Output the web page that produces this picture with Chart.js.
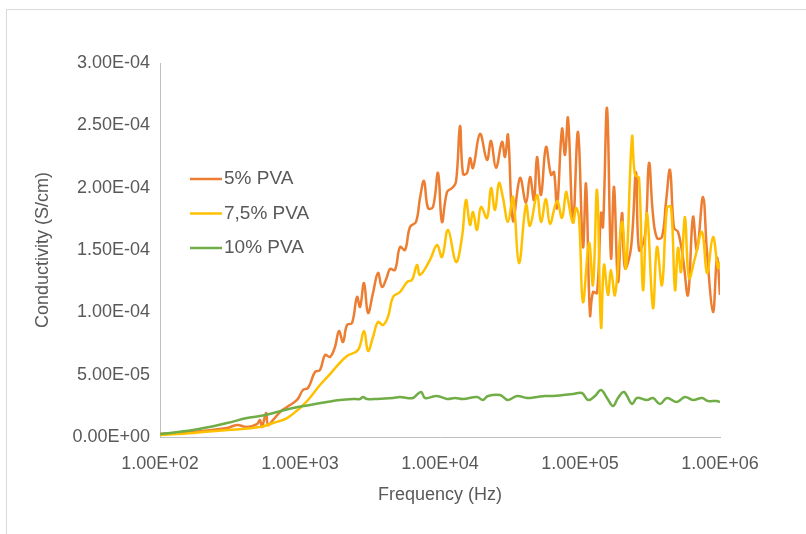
<!DOCTYPE html>
<html>
<head>
<meta charset="utf-8">
<script src="https://cdn.jsdelivr.net/npm/chart.js@4.4.1/dist/chart.umd.min.js"></script>
<style>
  html, body { margin: 0; padding: 0; background: #fff; }
  #frame { position: absolute; left: 6px; top: 9px; width: 800px; height: 525px;
           border-top: 1px solid #d9d9d9; border-left: 1px solid #d9d9d9; }
  #wrap { position: absolute; left: 0; top: 0; width: 806px; height: 534px; }
</style>
</head>
<body>
<div id="frame"></div>
<div id="wrap"><canvas id="chart"></canvas></div>
<script>
// Eixos
const xTicks = [1e2, 1e3, 1e4, 1e5, 1e6];
const xTickLabels = ['1.00E+02', '1.00E+03', '1.00E+04', '1.00E+05', '1.00E+06'];
const yTicks = [0, 5e-5, 1e-4, 1.5e-4, 2e-4, 2.5e-4, 3e-4];
const yTickLabels = ['0.00E+00', '5.00E-05', '1.00E-04', '1.50E-04', '2.00E-04', '2.50E-04', '3.00E-04'];

const seriesNames = ['5% PVA', '7,5% PVA', '10% PVA'];

// 5% PVA
const freq5 = [
  100,172,301,355,418,493,518,535,572,591,
  641,720,808,952,1050,1141,1280,1389,1509,1638,
  1778,1899,2028,2166,2352,2554,2683,2866,3060,3322,
  3607,3852,4180,4394,4771,5179,5623,6105,6740,7197,
  7686,8208,8913,9676,10330,11220,12180,13010,13890,14600,
  15590,16380,17210,19310,21660,23140,25120,27730,29130,30600,
  33220,37280,41150,43940,46930,49300,52660,57170,62070,65220,
  68500,74370,78140,82080,89130,96760,105000,110400,117900,123800,
  132300,141300,146000,155900,166500,175000,186800,199500,209600,231400,
  251200,263900,291300,311100,332200,354800,385200,411500,439400,469300,
  501200,544100,590700,641300,685000,756100,807500,891300,952000,1000000
];
const cond5 = [
  2.4e-6,4.0e-6,7.2e-6,9.6e-6,8.0e-6,1.04e-5,1.36e-5,8.0e-6,1.93e-5,9.6e-6,
  1.36e-5,2.0e-5,2.41e-5,2.97e-5,3.77e-5,3.93e-5,5.21e-5,5.37e-5,6.58e-5,6.42e-5,
  7.22e-5,8.50e-5,7.62e-5,8.98e-5,9.14e-5,1.123e-4,1.043e-4,1.235e-4,9.95e-5,1.155e-4,
  1.316e-4,1.203e-4,1.284e-4,1.348e-4,1.340e-4,1.524e-4,1.500e-4,1.685e-4,1.725e-4,1.917e-4,
  2.054e-4,1.837e-4,1.845e-4,2.118e-4,1.725e-4,1.965e-4,1.997e-4,2.046e-4,2.495e-4,2.110e-4,
  2.118e-4,2.238e-4,2.158e-4,2.431e-4,2.222e-4,2.375e-4,2.158e-4,2.367e-4,2.246e-4,2.423e-4,
  1.733e-4,2.078e-4,1.877e-4,2.086e-4,1.901e-4,2.246e-4,1.941e-4,2.326e-4,2.102e-4,2.126e-4,
  1.837e-4,2.471e-4,2.262e-4,2.559e-4,1.725e-4,2.447e-4,1.524e-4,2.030e-4,9.79e-5,1.163e-4,
  1.155e-4,1.797e-4,1.685e-4,2.639e-4,1.436e-4,2.006e-4,1.243e-4,1.797e-4,1.356e-4,1.516e-4,
  2.126e-4,1.500e-4,1.620e-4,2.198e-4,1.781e-4,1.596e-4,1.604e-4,1.885e-4,2.142e-4,1.677e-4,
  1.645e-4,1.436e-4,1.139e-4,1.765e-4,1.500e-4,1.925e-4,1.484e-4,1.003e-4,1.436e-4,1.139e-4
];

// 7,5% PVA
const freq75 = [
  100,172,301,518,641,808,1000,1141,1389,1638,
  1868,2166,2596,2866,3060,3322,3607,3916,4251,4617,
  5179,5812,6310,6850,7197,8483,9520,10330,11410,13010,
  14360,15330,16380,17210,18380,19630,21660,23140,24710,26390,
  28180,30600,33220,36660,41150,43940,49300,52660,57170,61050,
  68500,74370,79430,82080,89130,93640,98370,105000,116000,123800,
  132300,141300,148400,158500,166500,177800,199500,213100,235200,247100,
  263900,281800,301000,332200,354800,385200,418000,446700,477100,501200,
  526600,562300,600500,662900,743700,807500,891300,967600,1000000
];
const cond75 = [
  1.6e-6,3.2e-6,5.6e-6,8.0e-6,1.12e-5,1.52e-5,2.33e-5,2.97e-5,4.17e-5,5.05e-5,
  5.78e-5,6.50e-5,6.98e-5,8.50e-5,6.90e-5,8.02e-5,9.23e-5,8.98e-5,9.63e-5,1.123e-4,
  1.163e-4,1.243e-4,1.260e-4,1.380e-4,1.300e-4,1.420e-4,1.540e-4,1.444e-4,1.661e-4,1.404e-4,
  1.604e-4,1.901e-4,1.701e-4,1.805e-4,1.661e-4,1.845e-4,1.757e-4,1.997e-4,1.821e-4,2.038e-4,
  1.917e-4,1.725e-4,1.925e-4,1.396e-4,1.861e-4,1.693e-4,1.941e-4,1.725e-4,1.909e-4,1.709e-4,
  1.893e-4,1.757e-4,1.965e-4,1.901e-4,1.717e-4,1.837e-4,1.757e-4,1.083e-4,1.556e-4,1.219e-4,
  1.981e-4,8.82e-5,1.380e-4,1.139e-4,1.340e-4,1.139e-4,1.725e-4,1.356e-4,2.407e-4,2.102e-4,
  2.078e-4,1.179e-4,1.797e-4,1.035e-4,1.524e-4,1.219e-4,1.837e-4,1.845e-4,1.179e-4,1.516e-4,
  1.324e-4,1.765e-4,1.276e-4,1.436e-4,1.645e-4,1.316e-4,1.604e-4,1.356e-4,1.404e-4
];

// 10% PVA
const freq10 = [
  100,172,301,418,518,685,891,1179,1559,1931,
  2390,2683,2818,3010,3548,4617,5179,5812,6413,7317,
  7814,9520,11220,12800,14600,18380,20280,22020,26830,30600,
  35480,41800,49300,56230,64130,75610,89130,103300,114100,128000,
  141300,155900,172100,186800,206200,235200,255400,301000,332200,372800,
  418000,493000,562300,641300,743700,820800,952000,1000000
];
const cond10 = [
  2.4e-6,5.6e-6,1.12e-5,1.52e-5,1.68e-5,2.0e-5,2.33e-5,2.57e-5,2.81e-5,2.97e-5,
  3.05e-5,3.05e-5,3.21e-5,3.05e-5,3.05e-5,3.13e-5,3.21e-5,3.13e-5,3.13e-5,3.61e-5,
  3.13e-5,3.29e-5,3.05e-5,3.13e-5,3.05e-5,3.21e-5,2.97e-5,3.29e-5,3.37e-5,2.97e-5,
  3.29e-5,3.13e-5,3.21e-5,3.29e-5,3.29e-5,3.37e-5,3.45e-5,3.53e-5,2.97e-5,3.29e-5,
  3.77e-5,3.13e-5,2.49e-5,3.13e-5,3.61e-5,2.65e-5,3.13e-5,2.97e-5,3.13e-5,2.65e-5,
  3.13e-5,2.81e-5,3.21e-5,2.97e-5,3.13e-5,2.89e-5,2.89e-5,2.81e-5
];

const colors = ['#ED7D31', '#FFC000', '#70AD47'];
const textColor = '#595959';
const fontFamily = '"Liberation Sans", Arial, sans-serif';

function toPoints(xs, ys) {
  return xs.map((x, i) => ({ x: x, y: ys[i] }));
}

// Legenda dentro da área do gráfico
const insideLegend = {
  id: 'insideLegend',
  afterDraw(chart) {
    const ctx = chart.ctx;
    ctx.save();
    ctx.font = '19px ' + fontFamily;
    ctx.textBaseline = 'middle';
    chart.data.datasets.forEach((ds, i) => {
      const y = 179 + i * 34.5;
      ctx.strokeStyle = ds.borderColor;
      ctx.lineWidth = 2.5;
      ctx.beginPath();
      ctx.moveTo(190, y);
      ctx.lineTo(222, y);
      ctx.stroke();
      ctx.fillStyle = textColor;
      ctx.fillText(ds.label, 224, y);
    });
    ctx.restore();
  }
};

const series = [[freq5, cond5], [freq75, cond75], [freq10, cond10]];

new Chart(document.getElementById('chart'), {
  type: 'line',
  data: {
    datasets: series.map((s, i) => ({
      label: seriesNames[i],
      data: toPoints(s[0], s[1]),
      borderColor: colors[i],
      backgroundColor: colors[i],
      borderWidth: 2.5,
      pointRadius: 0,
      tension: 0.4,
      fill: false,
      order: 3 - i
    }))
  },
  options: {
    responsive: true,
    maintainAspectRatio: false,
    animation: false,
    layout: { padding: { top: 63, right: 86, bottom: 0, left: 0 } },
    plugins: { legend: { display: false }, tooltip: { enabled: false } },
    scales: {
      x: {
        type: 'logarithmic',
        min: 1e2,
        max: 1e6,
        afterBuildTicks: scale => { scale.ticks = xTicks.map(v => ({ value: v })); },
        afterFit: scale => { scale.height = 97; },
        grid: { display: false, drawTicks: false },
        border: { display: true, color: '#BFBFBF', width: 1 },
        ticks: {
          color: textColor,
          font: { family: fontFamily, size: 18 },
          padding: 16,
          maxRotation: 0,
          autoSkip: false,
          callback: (v, i) => xTickLabels[i]
        },
        title: {
          display: true,
          text: 'Frequency (Hz)',
          color: textColor,
          font: { family: fontFamily, size: 18 },
          padding: { top: 0, bottom: 28 }
        }
      },
      y: {
        type: 'linear',
        min: 0,
        max: 3e-4,
        afterBuildTicks: scale => { scale.ticks = yTicks.map(v => ({ value: v })); },
        afterFit: scale => { scale.width = 160; },
        grid: { display: false, drawTicks: false },
        border: { display: true, color: '#BFBFBF', width: 1 },
        ticks: {
          color: textColor,
          font: { family: fontFamily, size: 18 },
          padding: 10,
          callback: (v, i) => yTickLabels[i]
        },
        title: {
          display: true,
          text: 'Conductivity (S/cm)',
          color: textColor,
          font: { family: fontFamily, size: 18 },
          padding: { top: 32, bottom: 0 }
        }
      }
    }
  },
  plugins: [insideLegend]
});
</script>
</body>
</html>
